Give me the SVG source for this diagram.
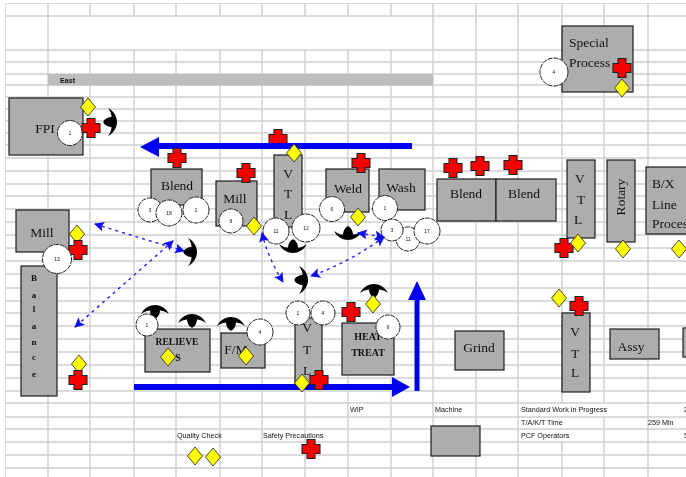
<svg xmlns="http://www.w3.org/2000/svg" xmlns:xlink="http://www.w3.org/1999/xlink" width="686" height="477" viewBox="0 0 686 477">
<style>
.grid{stroke:#cfcfcf;stroke-width:1.4;fill:none}
.box{fill:#adadad;stroke:#1c1c1c;stroke-width:1.2}
.t{font-family:"Liberation Serif",serif;font-size:13.5px;fill:#111;text-anchor:middle}
.ts{font-family:"Liberation Serif",serif;font-size:10px;font-weight:bold;fill:#111;text-anchor:middle}
.l{font-family:"Liberation Sans",sans-serif;font-size:7.2px;fill:#111}
.n{font-family:"Liberation Sans",sans-serif;font-size:5px;fill:#111;text-anchor:middle}
.c{fill:#fff;stroke:#222;stroke-width:1;stroke-dasharray:5 .9}
.flow{stroke:#0000f0;stroke-width:6;fill:none}
.dot{stroke:#1f1ff5;stroke-width:1.4;stroke-dasharray:3 4;fill:none;marker-start:url(#h);marker-end:url(#h)}
</style>
<defs>
<marker id="h" viewBox="0 0 10 10" refX="9" refY="5" markerWidth="10" markerHeight="10" markerUnits="userSpaceOnUse" orient="auto-start-reverse"><path d="M0 0L10 5L0 10L2 5Z" fill="#1010f0"/></marker>
<path id="x" d="M-4-9.5H4V-4.5H9V4.5H4V9.5H-4V4.5H-9V-4.5H-4Z" fill="#f50000" stroke="#222" stroke-width="1.1"/>
<path id="d" d="M0-9L7.5 0L0 9L-7.5 0Z" fill="#ffff00" stroke="#333" stroke-width=".9"/>
<path id="o" d="M-14 3C-11-3-5-6 0-6C5-6 11-3 14 3C10 0 7-.5 5-.5C5 3 3 6 1 7.500L-1 7.500C-3 6-5 3-5-.5C-7-.5-10 0-14 3Z" fill="#000"/>
<filter id="soft" x="0" y="0" width="100%" height="100%"><feGaussianBlur stdDeviation="0.35"/></filter>
</defs>
<rect width="686" height="477" fill="#fff"/>
<g filter="url(#soft)">
<g id="grid" class="grid">
<path d="M5 3V477M48 3V477M90 3V16M90 50V477M134 3V16M134 50V477M176 50V477M220 50V477M262 50V477M305 50V477M348 50V477M391 50V477M433 3V477M476 3V477M518 3V477M562 3V477M604 3V477M648 3V477M176 3V16M220 3V16M262 3V16M305 3V16M348 3V16M391 3V16"/>
<path d="M5 3H686M5 16H686M5 50H686M5 62H686M5 74H686M5 85H686M5 97H686M5 109H686M5 121H686M5 133H686M5 145H686M5 158H686M5 171H686M5 184H686M5 196H686M5 209H686M5 222H686M5 235H686M5 248H686M5 261H686M5 274H686M5 288H686M5 301H686M5 313H686M5 326H686M5 339H686M5 352H686M5 365H686M5 378H686M5 391H686M5 403H686M5 417H686M5 429H686M5 442H686M5 455H686M5 468H686"/>
<rect x="519" y="404" width="128" height="12" fill="#fff" stroke="none"/>
<rect x="519" y="418" width="84" height="10" fill="#fff" stroke="none"/>
<rect x="519" y="430" width="84" height="11" fill="#fff" stroke="none"/>
</g>
<g id="east"><rect x="48" y="74" width="385" height="11.500" fill="#bdbdbd"/><text x="60" y="83" class="l" style="font-weight:bold">East</text></g>

<g id="fpi"><rect class="box" x="9" y="98" width="74" height="57"/><text class="t" x="45" y="133">FPI</text><circle class="c" cx="70" cy="133" r="12.500"/><text class="n" x="70" y="135">1</text><use href="#x" x="91" y="128"/><use href="#d" x="88" y="107"/><use href="#o" transform="translate(111 122) rotate(90)"/></g>

<g id="blend1"><rect class="box" x="151" y="169" width="51" height="36"/><text class="t" x="177" y="190">Blend</text>
<circle class="c" cx="150" cy="210" r="12"/><text class="n" x="150" y="212">3</text><circle class="c" cx="169" cy="213" r="13"/><text class="n" x="169" y="215">18</text><circle class="c" cx="196" cy="210" r="13"/><text class="n" x="196" y="212">1</text></g>

<g id="mill2"><rect class="box" x="216" y="181" width="41" height="45"/><text class="t" x="235" y="203">Mill</text><circle class="c" cx="231" cy="221" r="12"/><text class="n" x="231" y="223">9</text><use href="#d" x="254" y="226"/><use href="#x" x="246" y="173"/></g>

<g id="vtl1-cross"><use href="#x" x="278" y="139"/></g>
<g id="vtl1"><rect class="box" x="274" y="155" width="28" height="72"/><text class="t" x="288" y="178">V</text><text class="t" x="288" y="198">T</text><text class="t" x="288" y="219">L</text><use href="#o" transform="translate(293 247) rotate(180)"/><circle class="c" cx="276" cy="231" r="13"/><text class="n" x="276" y="233">11</text><circle class="c" cx="306" cy="228" r="14"/><text class="n" x="306" y="230">12</text></g>

<g id="weld"><rect class="box" x="326" y="169" width="43" height="43"/><text class="t" x="348" y="193">Weld</text><use href="#x" x="361" y="163"/><circle class="c" cx="332" cy="209" r="12.500"/><text class="n" x="332" y="211">6</text><use href="#d" x="358" y="217"/><use href="#o" transform="translate(348 234) rotate(180)"/></g>

<g id="wash"><rect class="box" x="379" y="169" width="46" height="41"/><text class="t" x="401" y="192">Wash</text><circle class="c" cx="408" cy="239" r="12"/><text class="n" x="408" y="241">11</text><circle class="c" cx="385" cy="208" r="12.500"/><text class="n" x="385" y="210">1</text><circle class="c" cx="392" cy="230" r="11"/><text class="n" x="392" y="232">3</text><circle class="c" cx="427" cy="231" r="13"/><text class="n" x="427" y="233">17</text></g>

<g id="mill1"><rect class="box" x="16" y="210" width="53" height="42"/><text class="t" x="42" y="237">Mill</text><use href="#d" x="77" y="234"/><use href="#x" x="78" y="250"/></g>

<g id="balance"><rect class="box" x="21" y="266" width="36" height="130"/>
<g class="ts" style="font-size:9px"><text x="34" y="281">B</text><text x="34" y="298">a</text><text x="34" y="312">l</text><text x="34" y="329">a</text><text x="34" y="345">n</text><text x="34" y="360">c</text><text x="34" y="377">e</text></g>
<circle class="c" cx="57" cy="259" r="14.500"/><text class="n" x="57" y="261">13</text><use href="#d" x="79" y="364"/><use href="#x" x="78" y="380"/></g>

<g id="op-mid"><use href="#o" transform="translate(191 252) rotate(90)"/><use href="#o" transform="translate(302 280) rotate(90)"/></g>

<g id="relieve"><use href="#o" transform="translate(155 311)"/><use href="#o" transform="translate(192 320)"/><rect class="box" x="145" y="329" width="65" height="43"/><text class="ts" x="177" y="345" style="font-size:9.500px">RELIEVE</text><text class="ts" x="178" y="361">S</text><circle class="c" cx="147" cy="325" r="11"/><text class="n" x="147" y="327">1</text><use href="#d" x="168" y="357"/></g>

<g id="fm"><use href="#o" transform="translate(231 323)"/><rect class="box" x="221" y="333" width="44" height="35"/><text class="t" x="236" y="354">F/M</text><use href="#d" x="246" y="356"/><circle class="c" cx="260" cy="332" r="13"/><text class="n" x="260" y="334">4</text></g>

<g id="vtl2"><rect class="box" x="295" y="318" width="27" height="67"/><text class="t" x="307" y="332">V</text><text class="t" x="307" y="354">T</text><text class="t" x="307" y="375">L</text><circle class="c" cx="298" cy="313" r="12"/><text class="n" x="298" y="315">1</text><circle class="c" cx="323" cy="313" r="12"/><text class="n" x="323" y="315">4</text></g>

<g id="heat"><rect class="box" x="342" y="323" width="52" height="52"/><text class="ts" x="368" y="340">HEAT</text><text class="ts" x="368" y="356">TREAT</text><use href="#x" x="351" y="312"/><use href="#o" transform="translate(374 290)"/><use href="#d" x="373" y="304"/><circle class="c" cx="388" cy="327" r="12"/><text class="n" x="388" y="329">9</text></g>

<g id="grind"><rect class="box" x="455" y="331" width="49" height="39"/><text class="t" x="479" y="352">Grind</text></g>
<g id="vtl3"><rect class="box" x="562" y="313" width="28" height="79"/><text class="t" x="575" y="336">V</text><text class="t" x="575" y="358">T</text><text class="t" x="575" y="377">L</text><use href="#x" x="579" y="306"/><use href="#d" x="559" y="298"/></g>
<g id="assy"><rect class="box" x="610" y="329" width="49" height="30"/><text class="t" x="631" y="351">Assy</text></g>
<g id="edge-box"><rect class="box" x="683" y="328" width="10" height="29"/></g>

<g id="special"><rect class="box" x="562" y="26" width="71" height="66"/><text class="t" x="569" y="47" style="text-anchor:start">Special</text><text class="t" x="569" y="67" style="text-anchor:start">Process</text><circle class="c" cx="554" cy="72" r="14"/><text class="n" x="554" y="74">4</text><use href="#x" x="622" y="68"/><use href="#d" x="622" y="88"/></g>

<g id="blend2"><rect class="box" x="437" y="179" width="59" height="42"/><text class="t" x="466" y="198">Blend</text><use href="#x" x="453" y="168"/><use href="#x" x="480" y="166"/></g>
<g id="blend3"><rect class="box" x="496" y="179" width="60" height="42"/><text class="t" x="524" y="198">Blend</text><use href="#x" x="513" y="165"/></g>

<g id="vtl4"><rect class="box" x="567" y="160" width="28" height="78"/><text class="t" x="575" y="183" style="text-anchor:start">V</text><text class="t" x="581" y="204">T</text><text class="t" x="578" y="224">L</text><use href="#x" x="564" y="248"/><use href="#d" x="578" y="243"/></g>
<g id="rotary"><rect class="box" x="607" y="160" width="28" height="82"/><text class="t" transform="translate(625 197) rotate(-90)">Rotary</text><use href="#d" x="623" y="249"/></g>
<g id="bx"><rect class="box" x="646" y="167" width="50" height="67"/><text class="t" x="652" y="188" style="text-anchor:start">B/X</text><text class="t" x="652" y="209" style="text-anchor:start">Line</text><text class="t" x="652" y="228" style="text-anchor:start">Process</text><use href="#d" x="679" y="249"/></g>

<g id="connectors">
<path class="flow" d="M412 146H156"/><path d="M140 147L159 137V157Z" fill="#0000f0"/>
<path class="flow" d="M134 387H394"/><path d="M410 387L392 377V397Z" fill="#0000f0"/>
<path class="flow" style="stroke-width:5" d="M417 391V298"/><path d="M417 281L408 300H426Z" fill="#0000f0"/>
<path class="dot" d="M95 224Q140 238 184 251"/>
<path class="dot" d="M173 241L75 327"/>
<path class="dot" d="M262 233Q268 258 283 282"/>
<path class="dot" d="M384 237Q350 262 311 276"/>
<path class="dot" d="M358 233L384 237"/>
</g>

<g id="over-arrows"><use href="#x" x="177" y="158"/><use href="#d" x="294" y="153"/><use href="#d" x="302" y="383"/><use href="#x" x="319" y="380"/></g>

<g id="legend">
<text class="l" x="350" y="412">WIP</text><text class="l" x="435" y="412">Machine</text><text class="l" x="521" y="412">Standard Work in Progress</text><text class="l" x="684" y="412">2</text>
<text class="l" x="521" y="425">T/A/K/T Time</text><text class="l" x="648" y="425">259 Min</text>
<text class="l" x="521" y="438">PCF Operators</text><text class="l" x="684" y="438">5</text>
<text class="l" x="177" y="438">Quality Check</text><text class="l" x="263" y="438">Safety Precautions</text>
<rect class="box" x="431" y="426" width="49" height="30"/>
<use href="#d" x="195" y="456"/><use href="#d" x="213" y="457"/><use href="#x" x="311" y="449"/>
</g>
</g>
</svg>
